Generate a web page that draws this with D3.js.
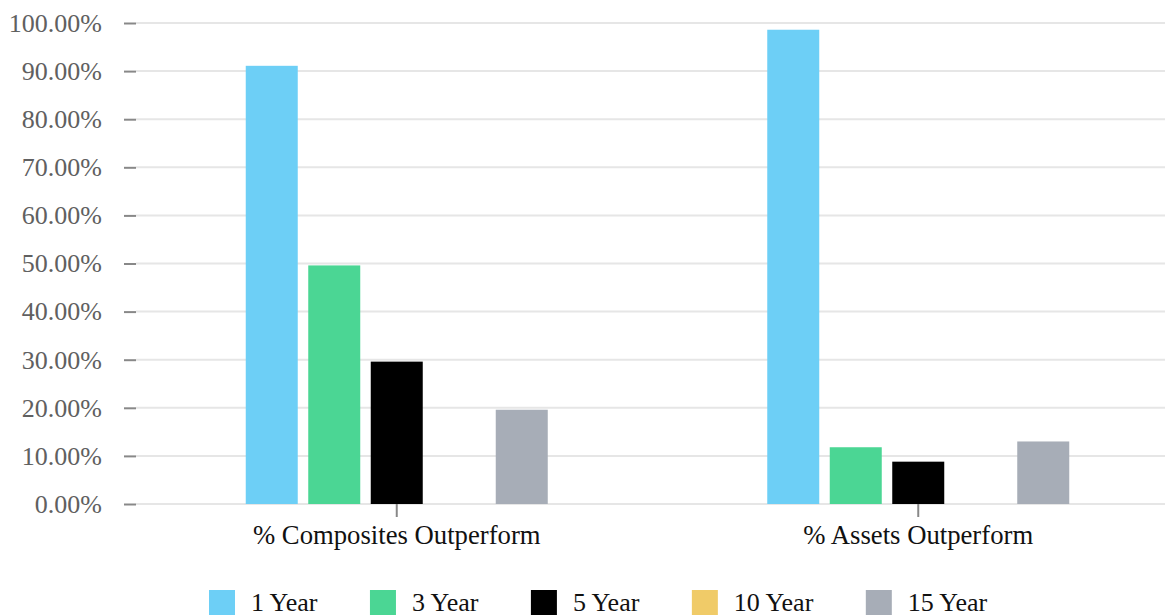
<!DOCTYPE html>
<html>
<head>
<meta charset="utf-8">
<script src="https://cdn.jsdelivr.net/npm/d3@7"></script>
<style>
  html, body { margin: 0; padding: 0; background: #fff; overflow: hidden; }
  text { font-family: "Liberation Serif", "Times New Roman", serif; }
</style>
</head>
<body>
<svg id="chart"></svg>
<script>
const width = 1165;
const height = 615;

// categories and series
const categories = ["% Composites Outperform", "% Assets Outperform"];
const series = ["1 Year", "3 Year", "5 Year", "10 Year", "15 Year"];
const colors = ["#6dcff6", "#4bd694", "#000000", "#f0cb68", "#a7adb7"];

// values in percent, one array per series (composites, assets)
const oneYear = [91.1, 98.6];
const threeYear = [49.6, 11.8];
const fiveYear = [29.6, 8.8];
const tenYear = [0, 0];
const fifteenYear = [19.6, 13.0];
const values = [oneYear, threeYear, fiveYear, tenYear, fifteenYear];

const yTicks = [0, 10, 20, 30, 40, 50, 60, 70, 80, 90, 100];

const margin = { top: 23, left: 136, bottom: 111 };
const plotBottom = height - margin.bottom; // 504
const serif = "'Liberation Serif', 'Times New Roman', serif";

const svg = d3.select("#chart")
    .attr("width", width)
    .attr("height", height);

const x0 = d3.scaleBand()
    .domain(categories)
    .range([136, 1179]);

// bar groups only use the middle part of each band
const groupW = 312.5;
const x1 = d3.scaleBand()
    .domain(series)
    .range([(x0.bandwidth() - groupW) / 2, (x0.bandwidth() + groupW) / 2])
    .paddingInner(0.168)
    .paddingOuter(0.084);

const y = d3.scaleLinear()
    .domain([0, 100])
    .range([plotBottom, margin.top]);

// grid lines
svg.append("g")
    .selectAll("line")
    .data(yTicks)
    .enter()
    .append("line")
    .attr("x1", margin.left)
    .attr("x2", width)
    .attr("y1", d => y(d))
    .attr("y2", d => y(d))
    .attr("stroke", "#e6e6e6")
    .attr("stroke-width", 2);

// y axis (ticks + labels)
const yAxis = svg.append("g")
    .attr("transform", `translate(${margin.left},0)`)
    .attr("font-family", serif)
    .call(d3.axisLeft(y).tickValues(yTicks).tickSize(12).tickPadding(22)
        .tickFormat(d => d.toFixed(2) + "%"));
yAxis.select(".domain").remove();
yAxis.selectAll(".tick line").attr("stroke", "#888").attr("stroke-width", 2);
yAxis.selectAll("text")
    .attr("fill", "#606060")
    .style("font-size", "26px")
    .style("font-family", serif);

// x axis
const xAxis = svg.append("g")
    .attr("transform", `translate(0,${plotBottom})`)
    .attr("font-family", serif)
    .call(d3.axisBottom(x0).tickSize(13).tickPadding(8));
xAxis.select(".domain").remove();
xAxis.selectAll(".tick line").attr("stroke", "#888").attr("stroke-width", 2);
xAxis.selectAll("text")
    .attr("fill", "#111")
    .style("font-size", "26.7px")
    .style("font-family", serif);

// bars
const groups = svg.append("g")
    .selectAll("g")
    .data(categories)
    .enter()
    .append("g")
    .attr("transform", d => `translate(${x0(d)},0)`);

groups.selectAll("rect")
    .data((c, ci) => series.map((s, si) => ({ s: s, v: values[si][ci], color: colors[si] })))
    .enter()
    .append("rect")
    .attr("x", d => x1(d.s))
    .attr("width", x1.bandwidth())
    .attr("y", d => y(d.v))
    .attr("height", d => plotBottom - y(d.v))
    .attr("fill", d => d.color);

// legend (sits at the bottom edge, partly clipped like the original)
const legend = svg.append("g").attr("transform", "translate(209,590)");
let lx = 0;
series.forEach((s, i) => {
    const item = legend.append("g").attr("transform", `translate(${lx},0)`);
    item.append("rect")
        .attr("width", 26)
        .attr("height", 26)
        .attr("fill", colors[i]);
    const t = item.append("text")
        .attr("x", 42)
        .attr("y", 21)
        .attr("fill", "#111")
        .style("font-size", "26px")
        .style("font-family", serif)
        .text(s);
    lx += 42 + t.node().getComputedTextLength() + 52.5;
});
</script>
</body>
</html>
